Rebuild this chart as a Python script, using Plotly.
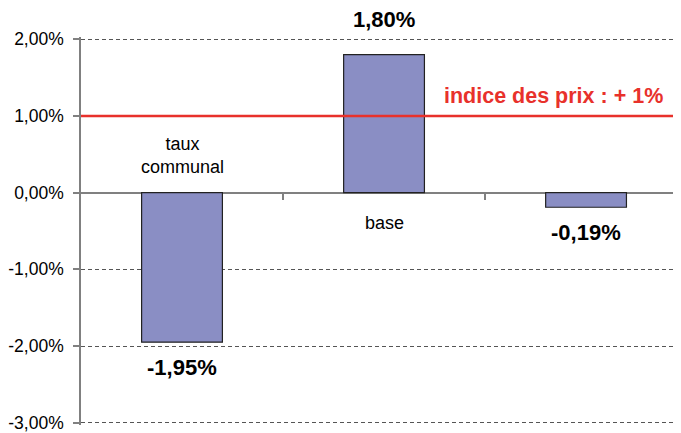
import plotly.graph_objects as go

categories = ["taux\ncommunal", "base", ""]
values = [-1.95, 1.80, -0.19]
price_index = 1.0
price_label = "indice des prix : + 1%"
tick_vals = [2, 1, 0, -1, -2, -3]
tick_text = ["2,00%", "1,00%", "0,00%", "-1,00%", "-2,00%", "-3,00%"]

FONT = "Arial, Liberation Sans, sans-serif"
BAR_COLOR = "#8A8EC4"
RED = "#E8312B"
GRAY = "#808080"

xs = list(range(len(categories)))

fig = go.Figure()
fig.add_trace(go.Bar(
    x=xs, y=values, width=0.4,
    marker=dict(color=BAR_COLOR, line=dict(color="#222222", width=1.2)),
    hoverinfo="skip", showlegend=False,
))
# helper trace for the category tick axis on the zero line
fig.add_trace(go.Scatter(x=[], y=[], xaxis="x2", showlegend=False))

def fmt(v):
    return f"{v:.2f}".replace(".", ",") + "%"

ann = []
for x, v, c in zip(xs, values, categories):
    if v >= 0:
        ann.append(dict(x=x, y=v, xref="x", yref="y", text=f"<b>{fmt(v)}</b>",
                        showarrow=False, yanchor="bottom", yshift=21,
                        font=dict(family=FONT, size=22, color="black")))
    else:
        ann.append(dict(x=x, y=v, xref="x", yref="y", text=f"<b>{fmt(v)}</b>",
                        showarrow=False, yanchor="top", yshift=-11,
                        font=dict(family=FONT, size=22, color="black")))
    if c:
        txt = c.replace("\n", "<br>")
        if v < 0:
            ann.append(dict(x=x, y=0, xref="x", yref="y", text=txt,
                            showarrow=False, yanchor="bottom", yshift=14,
                            font=dict(family=FONT, size=18, color="black")))
        else:
            ann.append(dict(x=x, y=0, xref="x", yref="y", text=txt,
                            showarrow=False, yanchor="top", yshift=-18,
                            font=dict(family=FONT, size=18, color="black")))

ann.append(dict(x=0.973, y=price_index, xref="paper", yref="y",
                text=f"<b>{price_label}</b>", showarrow=False,
                xanchor="right", yanchor="bottom", yshift=6,
                font=dict(family=FONT, size=21.5, color=RED)))

fig.add_shape(type="line", xref="paper", yref="y", x0=0, x1=1,
              y0=price_index, y1=price_index,
              line=dict(color=RED, width=2.4))

xr = [-0.5, 2.47]
fig.update_layout(
    width=673, height=425,
    margin=dict(l=73, r=0, t=29, b=8),
    paper_bgcolor="white", plot_bgcolor="white",
    font=dict(family=FONT, size=18, color="black"),
    annotations=ann,
    bargap=0.6,
    xaxis=dict(range=xr, showticklabels=False, showgrid=False,
               zeroline=False, showline=False, ticks="", automargin=False),
    xaxis2=dict(range=xr, overlaying="x", anchor="free", position=3.03 / 5.06,
                showticklabels=False, showgrid=False, zeroline=False,
                showline=False, ticks="outside", tickvals=[0.5, 1.5],
                ticklen=6, tickcolor=GRAY, tickwidth=1.5, automargin=False),
    yaxis=dict(range=[-3.03, 2.03], tickvals=tick_vals, ticktext=tick_text,
               showgrid=True, gridcolor="#555555", gridwidth=1,
               griddash="4px,3px",
               zeroline=True, zerolinecolor=GRAY, zerolinewidth=1.5,
               showline=True, linecolor=GRAY, linewidth=1.5,
               ticks="outside", ticklen=6, tickcolor=GRAY, tickwidth=1.5,
               ticklabelstandoff=6, automargin=False,
               tickfont=dict(family=FONT, size=17.5, color="black")),
)

fig.write_html("out.html")
